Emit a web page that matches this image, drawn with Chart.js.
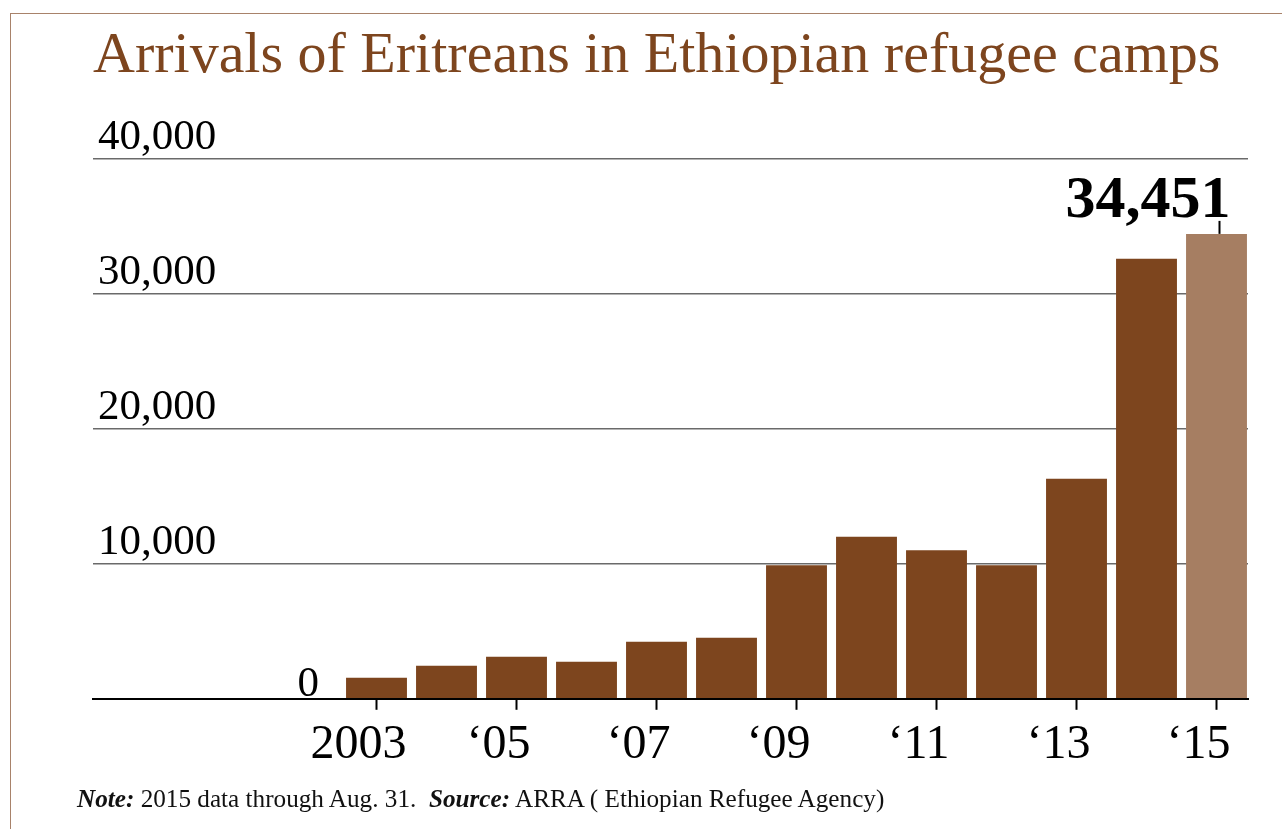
<!DOCTYPE html>
<html>
<head>
<meta charset="utf-8">
<script src="https://cdn.jsdelivr.net/npm/chart.js@4.4.1/dist/chart.umd.min.js"></script>
<style>
  html, body { margin: 0; padding: 0; background: #fff; }
  #wrap { position: relative; width: 1282px; height: 829px; overflow: hidden; }
  #frame { position: absolute; left: 10px; top: 13px; right: -5px; bottom: -5px;
           border-left: 1px solid #a8826a; border-top: 1px solid #a8826a; pointer-events: none; }
  #chartBox { position: absolute; left: 0; top: 0; width: 1282px; height: 829px; }
  #note { position: absolute; left: 77px; top: 786px; font-family: "Liberation Serif", "Times New Roman", serif;
          font-size: 25.2px; line-height: 25px; color: #111; white-space: nowrap; }
  #note b { font-style: italic; }
</style>
</head>
<body>
<div id="wrap">
  <div id="frame"></div>
  <div id="chartBox"><canvas id="c"></canvas></div>
  <div id="note"><b>Note:</b> 2015 data through Aug. 31.&nbsp; <b>Source:</b> ARRA ( Ethiopian Refugee Agency)</div>
</div>
<script>
// ---- data ----
const years = [2003, 2004, 2005, 2006, 2007, 2008, 2009, 2010, 2011, 2012, 2013, 2014, 2015];
const arrivals = [1560, 2440, 3110, 2740, 4220, 4520, 9900, 12000, 11000, 9900, 16300, 32600, 34451];
const xTickValues = [2003, 2005, 2007, 2009, 2011, 2013, 2015];
const xTickLabels = ['2003', '\u201805', '\u201807', '\u201809', '\u201811', '\u201813', '\u201815'];
const yTickValues = [0, 10000, 20000, 30000, 40000];
const yTickLabels = ['0', '10,000', '20,000', '30,000', '40,000'];
const titleText = 'Arrivals of Eritreans in Ethiopian refugee camps';

const DARK = 'rgb(125,69,30)';
const LIGHT = 'rgb(166,126,98)';
const SERIF = '"Liberation Serif", "Times New Roman", serif';

const barColors = years.map((y, i) => i === years.length - 1 ? LIGHT : DARK);

const annotate = {
  id: 'annotate',
  afterDatasetsDraw(chart) {
    const ctx = chart.ctx;
    const meta = chart.getDatasetMeta(0);
    const yScale = chart.scales.y;
    // "0" label near the baseline
    const first = meta.data[0];
    const y0 = yScale.getPixelForValue(0);
    ctx.save();
    ctx.fillStyle = '#000';
    ctx.font = '43px ' + SERIF;
    ctx.textAlign = 'right';
    ctx.textBaseline = 'alphabetic';
    ctx.fillText(yTickLabels[0], first.x - first.width / 2 - 27, y0 - 3);
    // callout for the last bar
    const lastIdx = arrivals.length - 1;
    const last = meta.data[lastIdx];
    const topY = yScale.getPixelForValue(arrivals[lastIdx]);
    ctx.strokeStyle = '#000';
    ctx.lineWidth = 2;
    ctx.beginPath();
    ctx.moveTo(last.x + 3, topY - 13);
    ctx.lineTo(last.x + 3, topY);
    ctx.stroke();
    ctx.font = 'bold 60px ' + SERIF;
    ctx.textAlign = 'right';
    ctx.fillText(arrivals[lastIdx].toLocaleString('en-US'), last.x + 14, topY - 17);
    ctx.restore();
  }
};

new Chart(document.getElementById('c'), {
  type: 'bar',
  data: {
    datasets: [{
      data: years.map((y, i) => ({ x: y, y: arrivals[i] })),
      backgroundColor: barColors,
      borderWidth: 0,
      categoryPercentage: 1,
      barPercentage: 0.87
    }]
  },
  options: {
    responsive: true,
    maintainAspectRatio: false,
    animation: false,
    layout: { padding: { left: 83, right: 34, top: 10, bottom: 47.6 } },
    plugins: {
      legend: { display: false },
      tooltip: { enabled: false },
      title: {
        display: true,
        text: titleText,
        align: 'start',
        fullSize: false,
        color: DARK,
        font: { family: SERIF, size: 58, weight: 'normal', lineHeight: 1.2 },
        padding: { top: 11.6, bottom: 67.8 }
      }
    },
    scales: {
      x: {
        type: 'linear',
        min: 1998.95,
        max: 2015.45,
        offset: false,
        afterBuildTicks(axis) { axis.ticks = xTickValues.map(v => ({ value: v })); },
        grid: { display: true, offset: false, drawOnChartArea: false, drawTicks: true,
                tickLength: 11, tickColor: '#000', tickWidth: 2 },
        border: { display: true, color: '#000', width: 2 },
        ticks: {
          color: '#000',
          font: { family: SERIF, size: 48, lineHeight: 1.2 },
          padding: 7,
          labelOffset: -18,
          maxRotation: 0,
          autoSkip: false,
          callback: (v, i) => xTickLabels[i]
        }
      },
      y: {
        min: 0,
        max: 40000,
        afterBuildTicks(axis) { axis.ticks = yTickValues.map(v => ({ value: v })); },
        grid: {
          drawTicks: false,
          color: (ctx) => ctx.tick && ctx.tick.value === 0 ? 'rgba(0,0,0,0)' : '#6a6a6a',
          lineWidth: 1.5
        },
        border: { display: false },
        ticks: {
          mirror: true,
          padding: 5,
          color: '#000',
          labelOffset: -21,
          font: { family: SERIF, size: 43, lineHeight: 1.2 },
          callback: (v, i) => (i === 0 ? '' : yTickLabels[i])
        }
      }
    }
  },
  plugins: [annotate]
});
</script>
</body>
</html>
